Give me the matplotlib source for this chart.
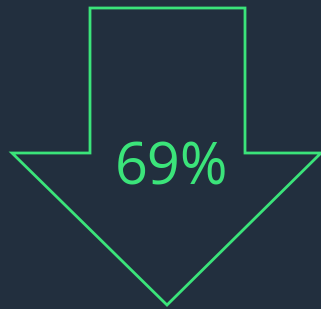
import matplotlib
matplotlib.use("Agg")
import matplotlib.pyplot as plt
from matplotlib.patches import Polygon

value = 69
label = f"{value}%"

BG = "#222f3e"
GREEN = "#3be47a"

W, H = 321, 309
fig = plt.figure(figsize=(W / 100, H / 100), dpi=100, facecolor=BG)
ax = fig.add_axes([0, 0, 1, 1])
ax.set_facecolor(BG)
ax.set_xlim(0, W)
ax.set_ylim(H, 0)
ax.axis("off")

# arrow outline (layout geometry)
shaft_l, shaft_r, top, neck = 90, 245, 8, 153
head_l, head_r, tip_x, tip_y = 12, 321, 167, 305
verts = [(shaft_l, top), (shaft_r, top), (shaft_r, neck), (head_r, neck),
         (tip_x, tip_y), (head_l, neck), (shaft_l, neck)]
ax.add_patch(Polygon(verts, closed=True, fill=False, edgecolor=GREEN,
                     linewidth=2.0, joinstyle="miter"))

ax.text(171, 169, label, color=GREEN, fontsize=41.5, ha="center", va="center",
        family=["Open Sans", "DejaVu Sans"])

fig.savefig("out.png", dpi=100, facecolor=BG)
